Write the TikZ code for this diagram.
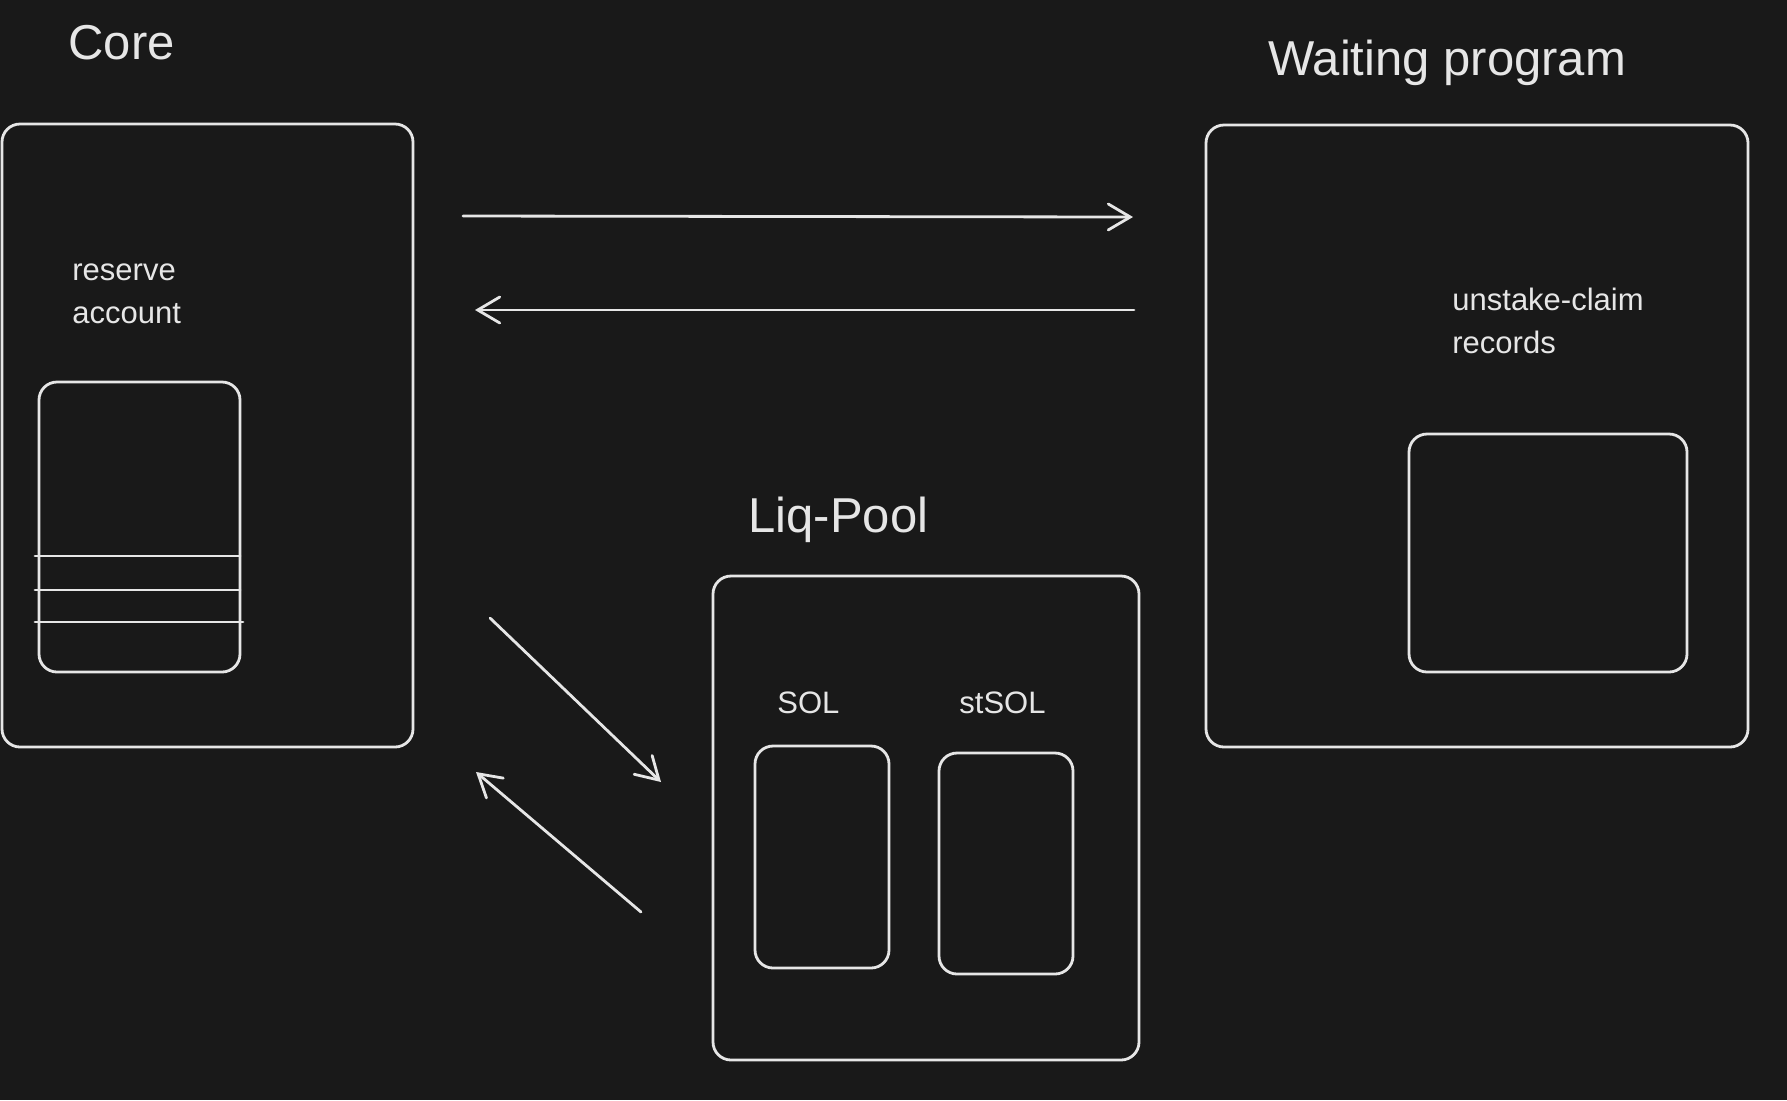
\documentclass[tikz,border=0pt]{standalone}
\usepackage{fontspec}
\setmainfont{Liberation Sans}
\usetikzlibrary{arrows.meta}
\definecolor{bg}{HTML}{191919}
\definecolor{ink}{HTML}{E6E6E6}
\tikzset{
  box/.style={draw=ink, line width=1.4pt, rounded corners=9pt, inner sep=0pt, anchor=center},
  title/.style={text=ink, font=\fontsize{24.5}{29}\selectfont, anchor=base west, inner sep=0pt},
  label/.style={text=ink, font=\fontsize{15.5}{21.5}\selectfont, anchor=base west, inner sep=0pt, align=left},
  flow/.style={draw=ink, line width=1.4pt, line cap=round, -{Straight Barb[length=11pt,width=13pt,line cap=round]}},
  divider/.style={draw=ink, line width=1.4pt, line cap=round}
}
\begin{document}
\begin{tikzpicture}[x=0.5pt, y=-0.5pt]
\fill[bg] (0,0) rectangle (1787,1100);
\useasboundingbox (0,0) rectangle (1787,1100);

% titles
\node[title] (tcore) at (68,59) {Core};
\node[title] (twait) at (1268,75) {Waiting program};
\node[title] (tpool) at (748,532) {Liq-Pool};

% Core
\node[box, minimum width=205.5pt, minimum height=311.5pt] (core) at (207.5,435.5) {};
\node[label] (lres) at (72,323) {reserve\\account};
\node[box, minimum width=100.5pt, minimum height=145pt] (reserve) at (139.5,527) {};
\coordinate (r1a) at (35,556);  \coordinate (r1b) at (240,556);
\coordinate (r2a) at (35,590);  \coordinate (r2b) at (240,590);
\coordinate (r3a) at (35,622);  \coordinate (r3b) at (243,622);
\draw[divider] (r1a) -- (r1b);
\draw[divider] (r2a) -- (r2b);
\draw[divider] (r3a) -- (r3b);

% Waiting program
\node[box, minimum width=271pt, minimum height=311pt] (waiting) at (1477,436) {};
\node[label] (lrec) at (1452,353) {unstake-claim\\records};
\node[box, minimum width=139pt, minimum height=119pt] (records) at (1548,553) {};

% Liq-Pool
\node[box, minimum width=213pt, minimum height=242pt] (pool) at (926,818) {};
\node[label] (lsol) at (777,713) {SOL};
\node[label] (lstsol) at (959,713) {stSOL};
\node[box, minimum width=67pt, minimum height=111pt] (sol) at (822,857) {};
\node[box, minimum width=67pt, minimum height=110.5pt] (stsol) at (1006,863.5) {};

% arrows
\coordinate (a1s) at (463,216);  \coordinate (a1e) at (1133,217);
\coordinate (a2s) at (1134,310); \coordinate (a2e) at (475,310);
\coordinate (a3s) at (490,618);  \coordinate (a3e) at (661,782);
\coordinate (a4s) at (641,912);  \coordinate (a4e) at (476,772);
\draw[flow] (a1s) -- (a1e);
\draw[flow] (a2s) -- (a2e);
\draw[flow] (a3s) -- (a3e);
\draw[flow] (a4s) -- (a4e);
\end{tikzpicture}
\end{document}
